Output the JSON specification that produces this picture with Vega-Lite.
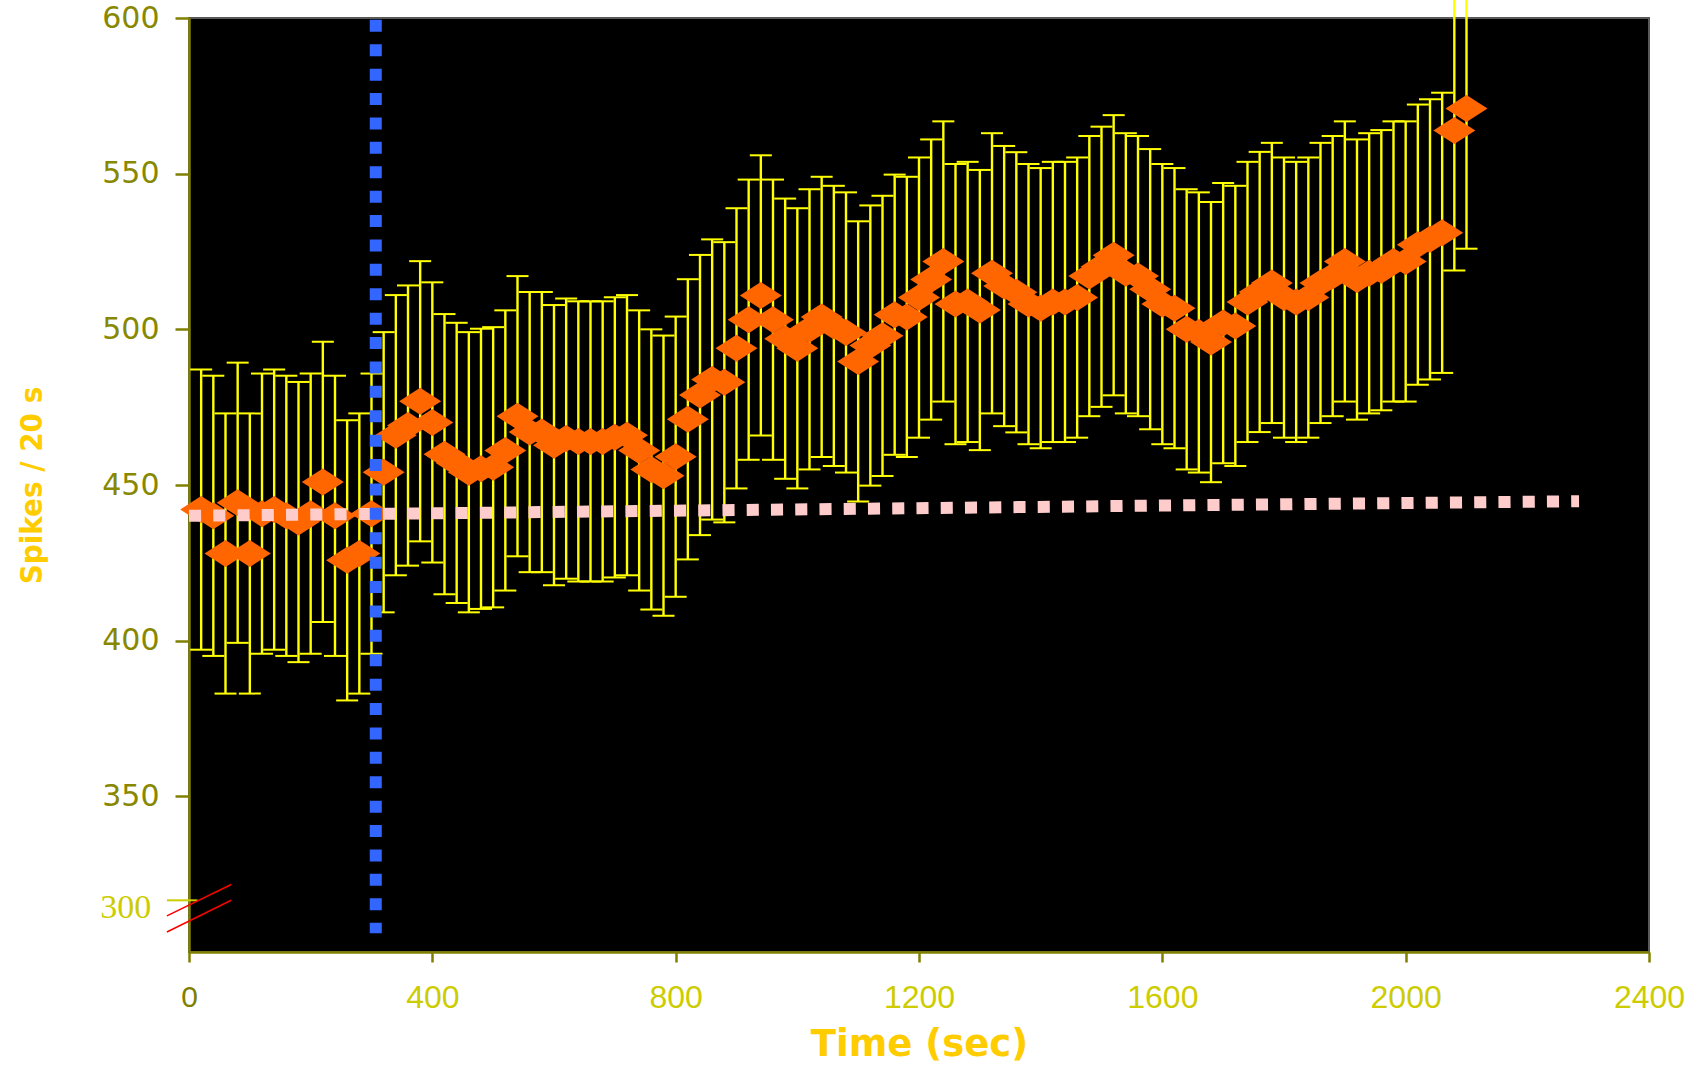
{
  "$schema": "https://vega.github.io/schema/vega-lite/v6.json",
  "autosize": {"type": "none"},
  "width": 1460,
  "height": 934,
  "padding": {"left": 189, "top": 18, "right": 51, "bottom": 113},
  "background": "white",
  "config": {
    "view": {"fill": "black", "stroke": "#5a5a5a", "strokeWidth": 2},
    "axis": {"grid": false}
  },
  "datasets": {
    "points": [
      {"t":20,"mean":442.1,"lo":397.1,"hi":487.1},
      {"t":40,"mean":440.1,"lo":395.1,"hi":485.1},
      {"t":60,"mean":428.0,"lo":383.0,"hi":473.0},
      {"t":80,"mean":444.3,"lo":399.3,"hi":489.3},
      {"t":100,"mean":428.0,"lo":383.0,"hi":473.0},
      {"t":120,"mean":440.8,"lo":395.8,"hi":485.8},
      {"t":140,"mean":442.1,"lo":397.1,"hi":487.1},
      {"t":160,"mean":440.1,"lo":395.1,"hi":485.1},
      {"t":180,"mean":438.1,"lo":393.1,"hi":483.1},
      {"t":200,"mean":440.8,"lo":395.8,"hi":485.8},
      {"t":220,"mean":451.0,"lo":406.0,"hi":496.0},
      {"t":240,"mean":440.1,"lo":395.1,"hi":485.1},
      {"t":260,"mean":425.8,"lo":380.8,"hi":470.8},
      {"t":280,"mean":428.0,"lo":383.0,"hi":473.0},
      {"t":300,"mean":440.8,"lo":395.8,"hi":485.8},
      {"t":320,"mean":454.1,"lo":409.1,"hi":499.1},
      {"t":340,"mean":466.0,"lo":421.0,"hi":511.0},
      {"t":360,"mean":469.1,"lo":424.1,"hi":514.1},
      {"t":380,"mean":476.9,"lo":431.9,"hi":521.9},
      {"t":400,"mean":470.1,"lo":425.1,"hi":515.1},
      {"t":420,"mean":459.9,"lo":414.9,"hi":504.9},
      {"t":440,"mean":457.1,"lo":412.1,"hi":502.1},
      {"t":460,"mean":454.1,"lo":409.1,"hi":499.1},
      {"t":480,"mean":455.2,"lo":410.2,"hi":500.2},
      {"t":500,"mean":455.7,"lo":410.7,"hi":500.7},
      {"t":520,"mean":461.1,"lo":416.1,"hi":506.1},
      {"t":540,"mean":472.1,"lo":427.1,"hi":517.1},
      {"t":560,"mean":467.0,"lo":422.0,"hi":512.0},
      {"t":580,"mean":467.0,"lo":422.0,"hi":512.0},
      {"t":600,"mean":462.8,"lo":417.8,"hi":507.8},
      {"t":620,"mean":464.9,"lo":419.9,"hi":509.9},
      {"t":640,"mean":464.0,"lo":419.0,"hi":509.0},
      {"t":660,"mean":464.0,"lo":419.0,"hi":509.0},
      {"t":680,"mean":464.0,"lo":419.0,"hi":509.0},
      {"t":700,"mean":465.3,"lo":420.3,"hi":510.3},
      {"t":720,"mean":466.0,"lo":421.0,"hi":511.0},
      {"t":740,"mean":461.1,"lo":416.1,"hi":506.1},
      {"t":760,"mean":455.0,"lo":410.0,"hi":500.0},
      {"t":780,"mean":453.0,"lo":408.0,"hi":498.0},
      {"t":800,"mean":459.1,"lo":414.1,"hi":504.1},
      {"t":820,"mean":471.1,"lo":426.1,"hi":516.1},
      {"t":840,"mean":478.9,"lo":433.9,"hi":523.9},
      {"t":860,"mean":483.9,"lo":438.9,"hi":528.9},
      {"t":880,"mean":483.0,"lo":438.0,"hi":528.0},
      {"t":900,"mean":493.9,"lo":448.9,"hi":538.9},
      {"t":920,"mean":503.1,"lo":458.1,"hi":548.1},
      {"t":940,"mean":510.9,"lo":465.9,"hi":555.9},
      {"t":960,"mean":503.1,"lo":458.1,"hi":548.1},
      {"t":980,"mean":497.0,"lo":452.0,"hi":542.0},
      {"t":1000,"mean":493.9,"lo":448.9,"hi":538.9},
      {"t":1020,"mean":500.0,"lo":455.0,"hi":545.0},
      {"t":1040,"mean":504.0,"lo":459.0,"hi":549.0},
      {"t":1060,"mean":501.1,"lo":456.1,"hi":546.1},
      {"t":1080,"mean":499.0,"lo":454.0,"hi":544.0},
      {"t":1100,"mean":489.7,"lo":444.7,"hi":534.7},
      {"t":1120,"mean":494.8,"lo":449.8,"hi":539.8},
      {"t":1140,"mean":497.9,"lo":452.9,"hi":542.9},
      {"t":1160,"mean":504.7,"lo":459.7,"hi":549.7},
      {"t":1180,"mean":504.0,"lo":459.0,"hi":549.0},
      {"t":1200,"mean":510.2,"lo":465.2,"hi":555.2},
      {"t":1220,"mean":516.0,"lo":471.0,"hi":561.0},
      {"t":1240,"mean":521.8,"lo":476.8,"hi":566.8},
      {"t":1260,"mean":508.1,"lo":463.1,"hi":553.1},
      {"t":1280,"mean":508.8,"lo":463.8,"hi":553.8},
      {"t":1300,"mean":506.2,"lo":461.2,"hi":551.2},
      {"t":1320,"mean":518.0,"lo":473.0,"hi":563.0},
      {"t":1340,"mean":513.9,"lo":468.9,"hi":558.9},
      {"t":1360,"mean":511.9,"lo":466.9,"hi":556.9},
      {"t":1380,"mean":508.1,"lo":463.1,"hi":553.1},
      {"t":1400,"mean":506.8,"lo":461.8,"hi":551.8},
      {"t":1420,"mean":508.8,"lo":463.8,"hi":553.8},
      {"t":1440,"mean":508.8,"lo":463.8,"hi":553.8},
      {"t":1460,"mean":510.2,"lo":465.2,"hi":555.2},
      {"t":1480,"mean":517.1,"lo":472.1,"hi":562.1},
      {"t":1500,"mean":520.1,"lo":475.1,"hi":565.1},
      {"t":1520,"mean":523.8,"lo":478.8,"hi":568.8},
      {"t":1540,"mean":518.0,"lo":473.0,"hi":563.0},
      {"t":1560,"mean":517.1,"lo":472.1,"hi":562.1},
      {"t":1580,"mean":512.9,"lo":467.9,"hi":557.9},
      {"t":1600,"mean":508.1,"lo":463.1,"hi":553.1},
      {"t":1620,"mean":506.8,"lo":461.8,"hi":551.8},
      {"t":1640,"mean":500.0,"lo":455.0,"hi":545.0},
      {"t":1660,"mean":499.0,"lo":454.0,"hi":544.0},
      {"t":1680,"mean":495.9,"lo":450.9,"hi":540.9},
      {"t":1700,"mean":502.0,"lo":457.0,"hi":547.0},
      {"t":1720,"mean":501.1,"lo":456.1,"hi":546.1},
      {"t":1740,"mean":508.8,"lo":463.8,"hi":553.8},
      {"t":1760,"mean":512.0,"lo":467.0,"hi":557.0},
      {"t":1780,"mean":514.9,"lo":469.9,"hi":559.9},
      {"t":1800,"mean":510.2,"lo":465.2,"hi":555.2},
      {"t":1820,"mean":508.8,"lo":463.8,"hi":553.8},
      {"t":1840,"mean":510.2,"lo":465.2,"hi":555.2},
      {"t":1860,"mean":514.9,"lo":469.9,"hi":559.9},
      {"t":1880,"mean":517.1,"lo":472.1,"hi":562.1},
      {"t":1900,"mean":521.8,"lo":476.8,"hi":566.8},
      {"t":1920,"mean":516.0,"lo":471.0,"hi":561.0},
      {"t":1940,"mean":518.0,"lo":473.0,"hi":563.0},
      {"t":1960,"mean":519.0,"lo":474.0,"hi":564.0},
      {"t":1980,"mean":521.8,"lo":476.8,"hi":566.8},
      {"t":2000,"mean":521.8,"lo":476.8,"hi":566.8},
      {"t":2020,"mean":527.2,"lo":482.2,"hi":572.2},
      {"t":2040,"mean":528.9,"lo":483.9,"hi":573.9},
      {"t":2060,"mean":531.0,"lo":486.0,"hi":576.0},
      {"t":2080,"mean":563.9,"lo":518.9,"hi":608.9},
      {"t":2100,"mean":570.9,"lo":525.9,"hi":615.9}
    ],
    "pink": [
      {"t": 0, "v": 440.1},
      {"t": 2285, "v": 444.8}
    ],
    "blue": [
      {"t": 307, "top": 599.4, "bottom": 306}
    ],
    "breaks": [
      {"x1": -36.3, "y1": 311.6, "x2": 69.4, "y2": 321.7},
      {"x1": -36.3, "y1": 306.4, "x2": 69.4, "y2": 316.6}
    ],
    "faketick": [
      {"x1": -36.3, "x2": 13.8, "y": 316.6}
    ],
    "fakelabel": [
      {"t": -62, "v": 314.2, "label": "300"}
    ]
  },
  "layer": [
    {
      "data": {"name": "points"},
      "mark": {"type": "rule", "color": "#FFFF00", "strokeWidth": 2.4},
      "encoding": {
        "x": {
          "field": "t", "type": "quantitative", "title": "Time (sec)",
          "scale": {"domain": [0, 2400], "nice": false, "zero": false},
          "axis": {
            "values": [0, 400, 800, 1200, 1600, 2000, 2400],
            "format": "d",
            "labelFont": "Liberation Sans",
            "labelFontSize": {"condition": {"test": "datum.value === 0", "value": 30}, "value": 32},
            "labelColor": {"condition": {"test": "datum.value === 0", "value": "#808000"}, "value": "#CCCC00"},
            "labelPadding": 20,
            "labelFlush": false,
            "labelOverlap": false,
            "tickSize": 10,
            "tickWidth": 2.5,
            "tickColor": "#808000",
            "domainColor": "#808000",
            "domainWidth": 2.5,
            "grid": false,
            "titleFont": "DejaVu Sans",
            "titleFontWeight": "bold",
            "titleFontSize": 37,
            "titleColor": "#FFCC00",
            "titleX": 730,
            "titleY": 103,
            "titleAlign": "center",
            "titleBaseline": "alphabetic"
          }
        },
        "y": {
          "field": "lo", "type": "quantitative", "title": "Spikes / 20 s",
          "scale": {"domain": [300, 600], "nice": false, "zero": false},
          "axis": {
            "values": [350, 400, 450, 500, 550, 600],
            "labelFont": "DejaVu Sans",
            "labelFontSize": 30,
            "labelColor": "#888800",
            "labelPadding": 16,
            "labelFlush": false,
            "labelOverlap": false,
            "tickSize": 14,
            "tickWidth": 2.5,
            "tickColor": "#808000",
            "domainColor": "#808000",
            "domainWidth": 2.5,
            "grid": false,
            "titleFont": "Liberation Sans Narrow, DejaVu Sans Condensed, sans-serif",
            "titleFontWeight": "bold",
            "titleFontSize": 31,
            "titleColor": "#FFCC00",
            "titleAngle": 270,
            "titleX": -157,
            "titleY": 467,
            "titleAlign": "center",
            "titleBaseline": "middle"
          }
        },
        "y2": {"field": "hi"}
      }
    },
    {
      "data": {"name": "points"},
      "mark": {"type": "tick", "orient": "horizontal", "color": "#FFFF00", "size": 22, "thickness": 2, "opacity": 1},
      "encoding": {
        "x": {"field": "t", "type": "quantitative", "title": "Time (sec)"},
        "y": {"field": "hi", "type": "quantitative", "title": "Spikes / 20 s"}
      }
    },
    {
      "data": {"name": "points"},
      "mark": {"type": "tick", "orient": "horizontal", "color": "#FFFF00", "size": 22, "thickness": 2, "opacity": 1},
      "encoding": {
        "x": {"field": "t", "type": "quantitative", "title": "Time (sec)"},
        "y": {"field": "lo", "type": "quantitative", "title": "Spikes / 20 s"}
      }
    },
    {
      "data": {"name": "points"},
      "mark": {"type": "point", "shape": "M-1,0L0,-0.643L1,0L0,0.643Z", "filled": true, "color": "#FF6600", "size": 1764, "opacity": 1, "strokeWidth": 0},
      "encoding": {
        "x": {"field": "t", "type": "quantitative", "title": "Time (sec)"},
        "y": {"field": "mean", "type": "quantitative", "title": "Spikes / 20 s"}
      }
    },
    {
      "data": {"name": "pink"},
      "mark": {"type": "line", "color": "#FFCCCC", "strokeWidth": 12, "strokeDash": [12.1, 12.15], "strokeCap": "butt"},
      "encoding": {
        "x": {"field": "t", "type": "quantitative", "title": "Time (sec)"},
        "y": {"field": "v", "type": "quantitative", "title": "Spikes / 20 s"}
      }
    },
    {
      "data": {"name": "blue"},
      "mark": {"type": "rule", "color": "#3366FF", "strokeWidth": 12, "strokeDash": [12, 12.4], "strokeCap": "butt"},
      "encoding": {
        "x": {"field": "t", "type": "quantitative", "title": "Time (sec)"},
        "y": {"field": "top", "type": "quantitative", "title": "Spikes / 20 s"},
        "y2": {"field": "bottom"}
      }
    },
    {
      "data": {"name": "faketick"},
      "mark": {"type": "rule", "color": "#CCCC00", "strokeWidth": 2},
      "encoding": {
        "x": {"field": "x1", "type": "quantitative", "title": "Time (sec)"},
        "x2": {"field": "x2"},
        "y": {"field": "y", "type": "quantitative", "title": "Spikes / 20 s"}
      }
    },
    {
      "data": {"name": "breaks"},
      "mark": {"type": "rule", "color": "#FF0000", "strokeWidth": 1.6},
      "encoding": {
        "x": {"field": "x1", "type": "quantitative", "title": "Time (sec)"},
        "x2": {"field": "x2"},
        "y": {"field": "y1", "type": "quantitative", "title": "Spikes / 20 s"},
        "y2": {"field": "y2"}
      }
    },
    {
      "data": {"name": "fakelabel"},
      "mark": {"type": "text", "font": "Liberation Serif", "fontSize": 34, "color": "#CCCC00", "align": "right", "baseline": "middle"},
      "encoding": {
        "x": {"field": "t", "type": "quantitative", "title": "Time (sec)"},
        "y": {"field": "v", "type": "quantitative", "title": "Spikes / 20 s"},
        "text": {"field": "label"}
      }
    }
  ]
}
